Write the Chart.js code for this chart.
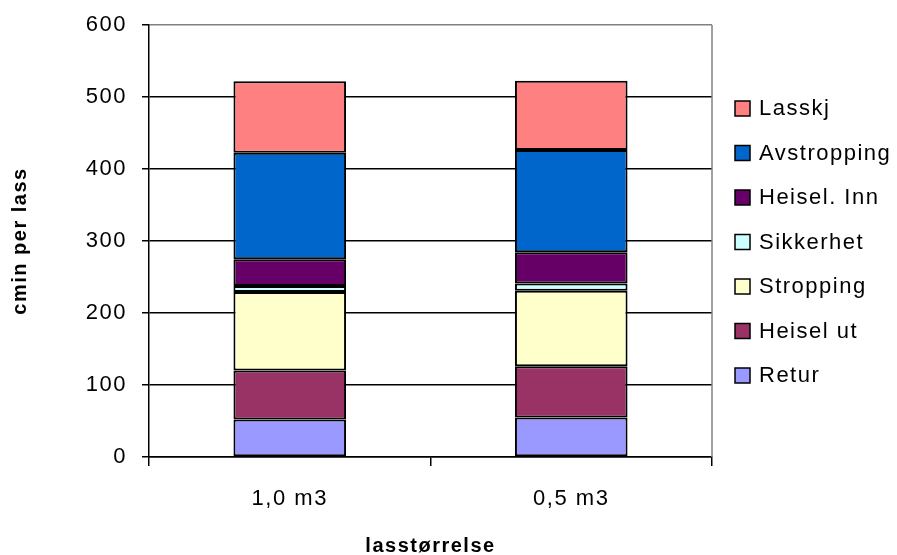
<!DOCTYPE html>
<html>
<head>
<meta charset="utf-8">
<script src="https://cdn.jsdelivr.net/npm/chart.js@4/dist/chart.umd.min.js"></script>
<style>
  html, body { margin: 0; padding: 0; background: #ffffff; }
  #wrap { width: 897px; height: 555px; }
</style>
</head>
<body>
<div id="wrap"><canvas id="c" width="897" height="555"></canvas></div>
<script>
// Load sizes and the time components per load (cmin per lass)
const categories = ['1,0 m3', '0,5 m3'];
const seriesNames = ['Retur', 'Heisel ut', 'Stropping', 'Sikkerhet', 'Heisel. Inn', 'Avstropping', 'Lasskj'];
const retur       = [52, 55];
const heiselUt    = [68, 71];
const stropping   = [109, 105];
const sikkerhet   = [8.5, 10];
const heiselInn   = [37, 43.5];
const avstropping = [148, 142];
const lasskj      = [99.5, 96];
const seriesColors = ['#9999FF', '#993366', '#FFFFCC', '#CCFFFF', '#660066', '#0066CC', '#FF8080'];
const yTickValues = [0, 100, 200, 300, 400, 500, 600];

const seriesValues = [retur, heiselUt, stropping, sikkerhet, heiselInn, avstropping, lasskj];

const FONT = 'Liberation Sans, Arial, sans-serif';
const SPACING = '1.5px';

// Slightly wider character spacing for all canvas text
const spacingPlugin = {
  id: 'spacing',
  beforeUpdate(chart) { chart.ctx.letterSpacing = SPACING; },
  beforeLayout(chart) { chart.ctx.letterSpacing = SPACING; },
  beforeDraw(chart) { chart.ctx.letterSpacing = SPACING; }
};

// Grey right edge of the plot frame
const framePlugin = {
  id: 'frame',
  beforeDatasetsDraw(chart) {
    const { ctx, chartArea } = chart;
    ctx.save();
    ctx.strokeStyle = '#808080';
    ctx.lineWidth = 1.5;
    ctx.beginPath();
    ctx.moveTo(chartArea.right, chartArea.top);
    ctx.lineTo(chartArea.right, chartArea.bottom);
    ctx.stroke();
    ctx.restore();
  }
};

// Legend on the right, listed from the top series down
const legendPlugin = {
  id: 'sideLegend',
  afterDraw(chart) {
    const { ctx } = chart;
    const sets = chart.data.datasets;
    ctx.save();
    ctx.letterSpacing = SPACING;
    ctx.font = '22px ' + FONT;
    ctx.textBaseline = 'middle';
    ctx.textAlign = 'left';
    for (let k = 0; k < sets.length; k++) {
      const ds = sets[sets.length - 1 - k];
      const cy = 108 + k * 44.5;
      ctx.fillStyle = ds.backgroundColor;
      ctx.fillRect(735, cy - 7, 15, 15);
      ctx.strokeStyle = '#000000';
      ctx.lineWidth = 1.5;
      ctx.strokeRect(735, cy - 7, 15, 15);
      ctx.fillStyle = '#000000';
      ctx.fillText(ds.label, 759, cy + 1);
    }
    ctx.restore();
  }
};

const datasets = seriesNames.map((name, i) => ({
  label: name,
  data: seriesValues[i],
  backgroundColor: seriesColors[i],
  borderColor: '#000000',
  borderWidth: 2,
  borderSkipped: false,
  barPercentage: 0.4,
  categoryPercentage: 1.0
}));

new Chart(document.getElementById('c'), {
  type: 'bar',
  data: { labels: categories, datasets },
  plugins: [spacingPlugin, framePlugin, legendPlugin],
  options: {
    responsive: false,
    animation: false,
    devicePixelRatio: 1,
    layout: { padding: { left: 0, top: 25, right: 185, bottom: 0 } },
    plugins: { legend: { display: false }, tooltip: { enabled: false } },
    scales: {
      x: {
        stacked: true,
        afterFit(scale) { scale.height = 98; scale.paddingLeft = 0; scale.paddingRight = 0; },
        grid: {
          drawOnChartArea: false,
          drawTicks: true,
          tickLength: 9,
          color: '#000000',
          lineWidth: 1.5
        },
        border: { display: true, color: '#000000', width: 1.5 },
        ticks: { color: '#000000', padding: 20, font: { family: FONT, size: 22 } },
        title: {
          display: true,
          text: 'lasstørrelse',
          color: '#000000',
          padding: { top: 0, bottom: -3 },
          font: { family: FONT, size: 20, weight: 'bold' }
        }
      },
      y: {
        stacked: true,
        min: 0,
        max: 600,
        afterFit(scale) { scale.width = 149; scale.paddingTop = 0; scale.paddingBottom = 0; },
        afterBuildTicks(scale) { scale.ticks = yTickValues.map(v => ({ value: v })); },
        grid: {
          color: (c) => (c.tick && c.tick.value === 600 ? '#808080' : '#000000'),
          lineWidth: 1.5,
          tickLength: 7,
          tickColor: '#000000'
        },
        border: { display: true, color: '#000000', width: 1.5 },
        ticks: { color: '#000000', padding: 15, font: { family: FONT, size: 22 } },
        title: {
          display: true,
          text: 'cmin per lass',
          color: '#000000',
          padding: { top: 8, bottom: 0 },
          font: { family: FONT, size: 20, weight: 'bold' }
        }
      }
    }
  }
});
</script>
</body>
</html>
